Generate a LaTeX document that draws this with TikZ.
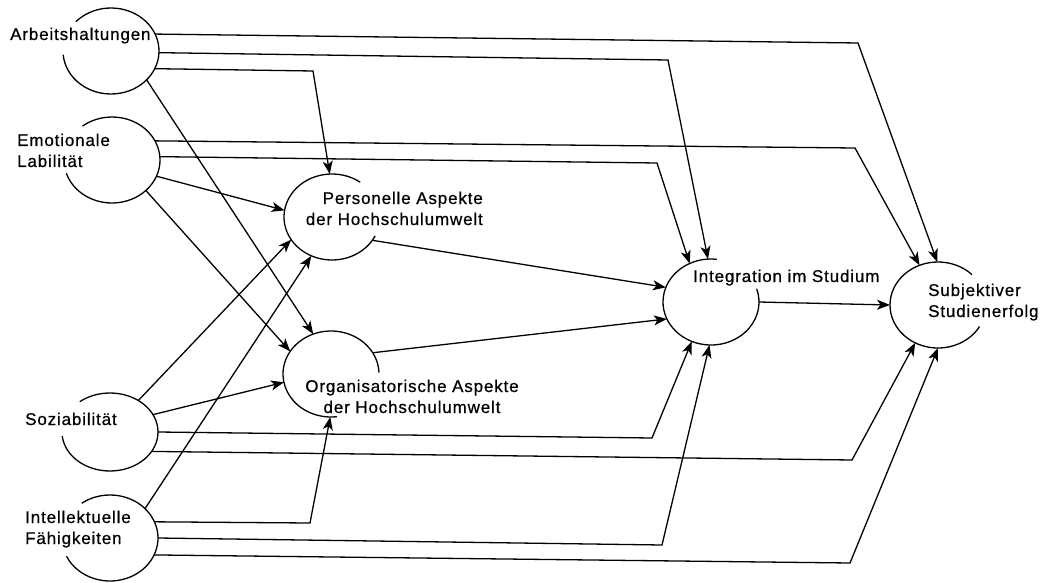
\documentclass[tikz,border=0pt]{standalone}
\usepackage{fontspec}
\setmainfont{Liberation Sans}[LetterSpace=5,FakeBold=0.6]
\usetikzlibrary{shapes.geometric,arrows.meta}
% open rim of a latent variable: node, start angle, end angle, y radius
\newcommand\rimarc[4]{\draw[rim] ([shift={(#2:48pt and #4pt)}]#1.center) arc[start angle=#2,end angle=#3,x radius=48pt,y radius=#4pt];}
\begin{document}
\begin{tikzpicture}[x=1pt,y=-1pt,
  var/.style={ellipse,minimum width=96pt,minimum height=86pt,inner sep=0pt,outer sep=0pt},
  lbl/.style={inner sep=0pt,font=\fontsize{17}{21}\selectfont},
  link/.style={line width=1.3pt,-{Stealth[length=13pt,width=10pt,inset=3.5pt]},line join=miter},
  rim/.style={line width=1.3pt}]
\useasboundingbox[fill=white] (0,0) rectangle (1044,583);

% latent variables
\node[var] (A) at (111,51) {};
\node[var] (E) at (112,160) {};
\node[var,minimum height=78pt] (S) at (110,432) {};
\node[var] (I) at (110,538) {};
\node[var] (P) at (332,217) {};
\node[var] (O) at (331,374) {};
\node[var] (Int) at (711,302) {};
\node[var] (Subj) at (938,305) {};

% rims, left open where the labels run into them
\rimarc{A}{-175}{137}{43}
\rimarc{E}{-162}{128}{43}
\rimarc{S}{-174}{129}{39}
\rimarc{I}{-155}{126}{43}
\rimarc{P}{54}{334}{43}
\rimarc{O}{2}{277}{43}
\rimarc{Int}{83}{378}{43}
\rimarc{Subj}{45}{330}{43}

% labels (two-line labels are placed by the baseline of their last line)
\node[lbl,anchor=base west] (tA) at (10,40) {Arbeitshaltungen};
\node[lbl,anchor=base west,align=left] (tE) at (17,167) {Emotionale\\Labilität};
\node[lbl,anchor=base west] (tS) at (25,425) {Soziabilität};
\node[lbl,anchor=base west,align=left] (tI) at (25,544) {Intellektuelle\\Fähigkeiten};
\node[lbl,anchor=base east,align=right] (tP) at (483,225) {Personelle Aspekte\\der Hochschulumwelt};
\node[lbl,anchor=base,align=center] (tO) at (412,413) {Organisatorische Aspekte\\der Hochschulumwelt};
\node[lbl,anchor=base west] (tInt) at (693,282) {Integration im Studium};
\node[lbl,anchor=base west,align=left] (tSubj) at (928,317) {Subjektiver\\Studienerfolg};

% paths
\draw[link] (A.21) -- (858,43) -- (Subj.91);
\draw[link] (A.-2) -- (668,60) -- (Int.94);
\draw[link] (A.-22) -- (313,71) -- (P.93);
\draw[link] (A.-39) -- (O.114);
\draw[link] (E.24) -- (855,148) -- (Subj.115);
\draw[link] (E.4) -- (657,163) -- (Int.119);
\draw[link] (E.-20) -- (P.172);
\draw[link] (E.-42) -- (O.151);
\draw[link] (S.48) -- (P.209);
\draw[link] (S.22) -- (O.190);
\draw[link] (S.0) -- (652,438) -- (Int.244);
\draw[link] (S.-25) -- (852,460) -- (Subj.239);
\draw[link] (I.40) -- (P.242);
\draw[link] (I.20) -- (310,523) -- (O.269);
\draw[link] (I.0) -- (662,545) -- (Int.268);
\draw[link] (I.-21) -- (850,563) -- (Subj.270);
\draw[link] (P.-30) -- (Int.162);
\draw[link] (O.27) -- (Int.201);
\draw[link] (Int.0) -- (Subj.180);
\end{tikzpicture}
\end{document}
